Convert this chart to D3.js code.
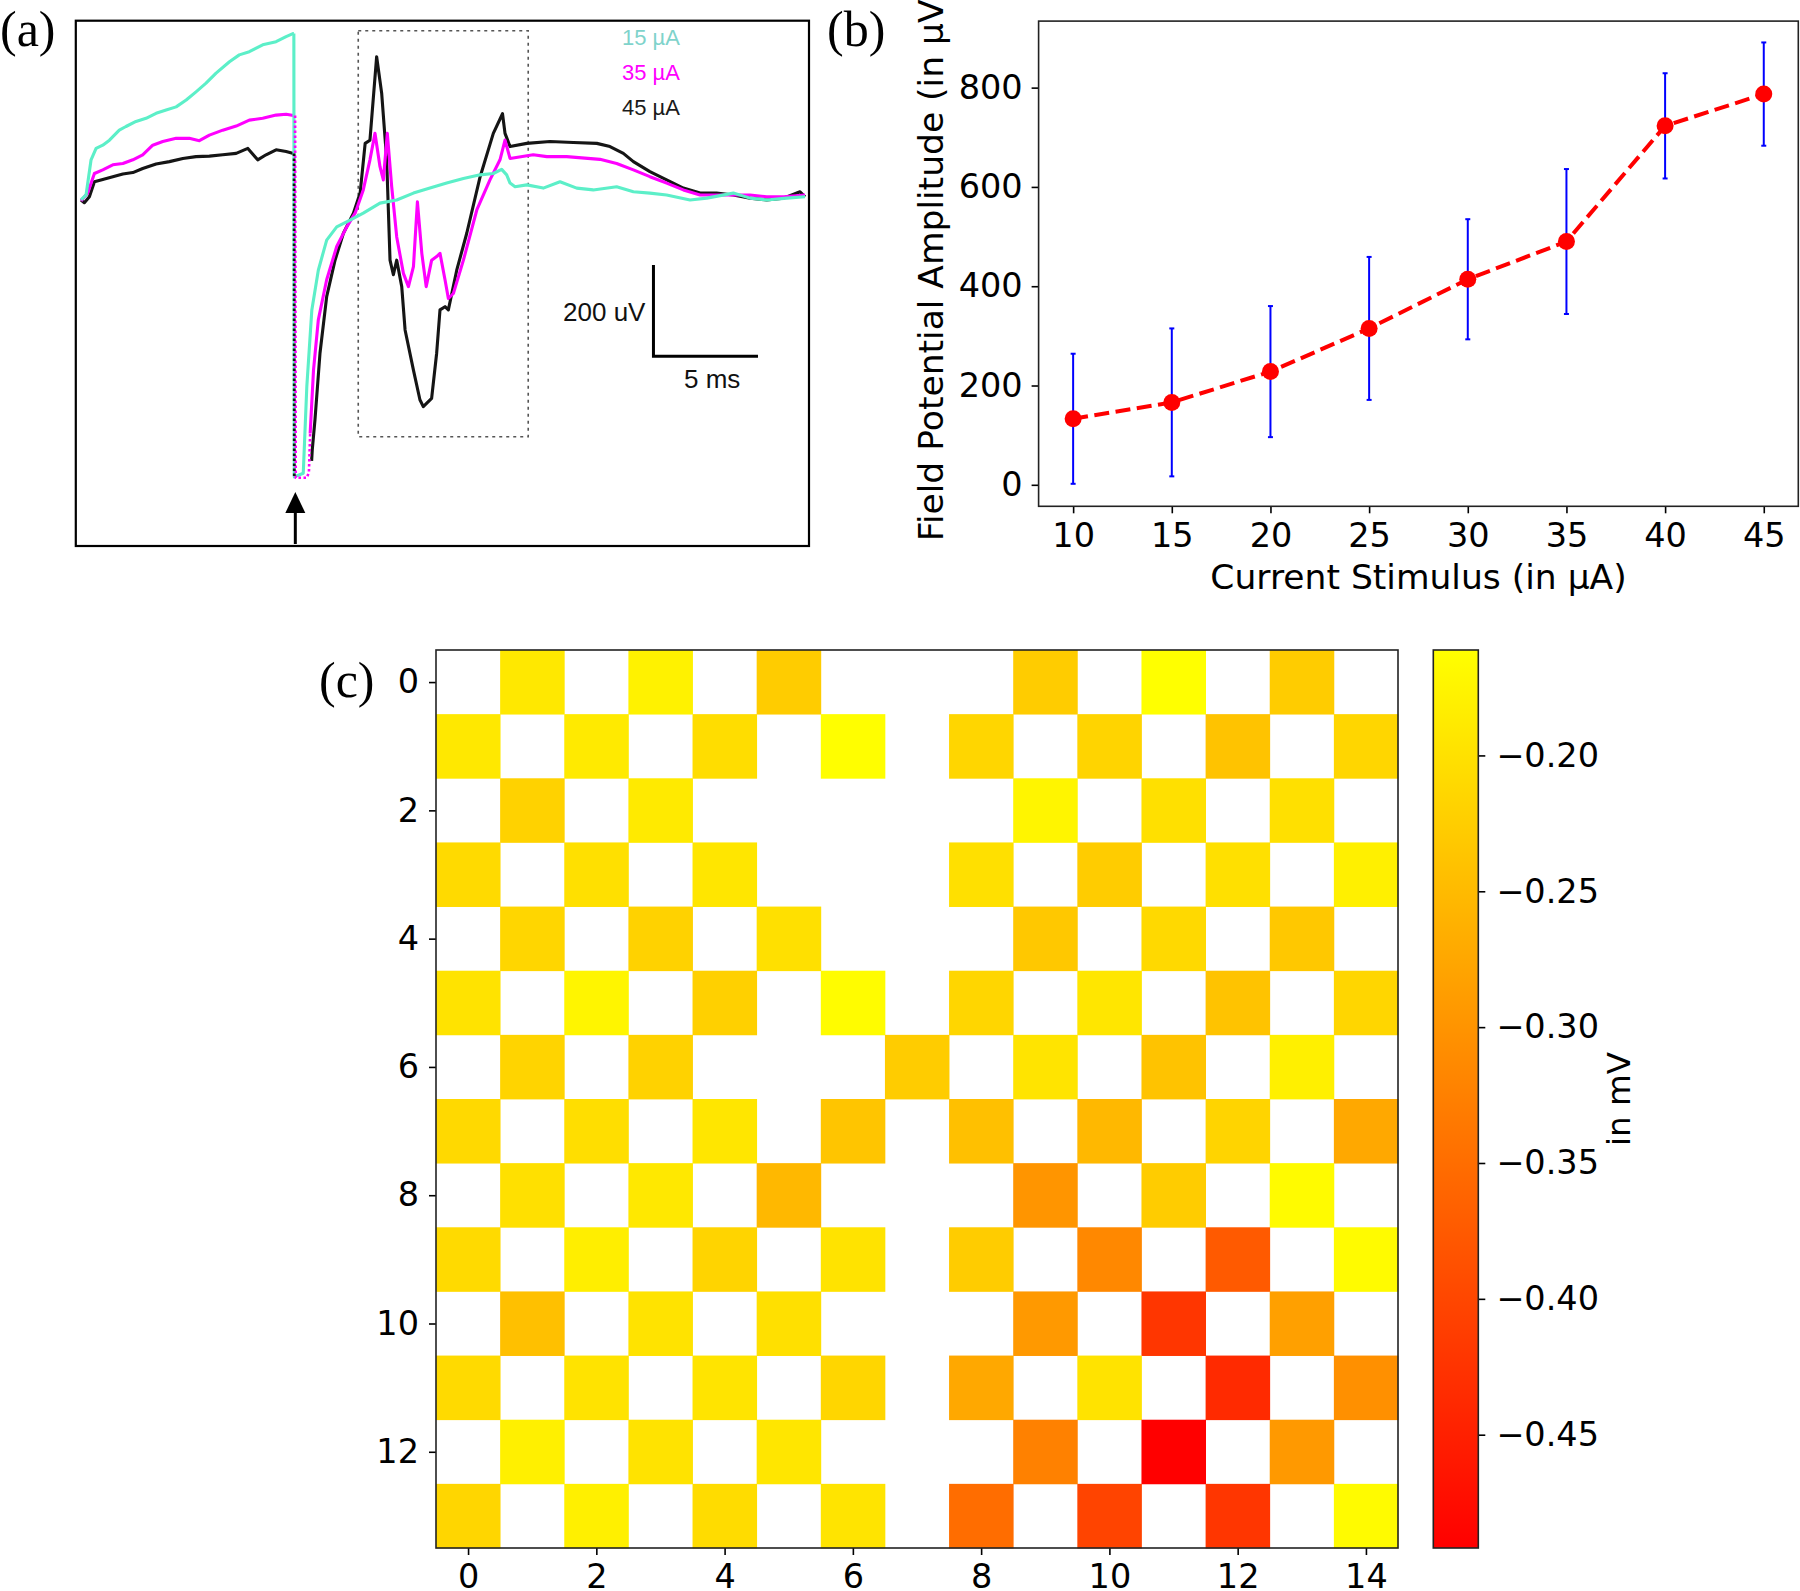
<!DOCTYPE html>
<html><head><meta charset="utf-8">
<script src="https://cdn.jsdelivr.net/npm/d3@7"></script>
<style>body{margin:0;background:#fff} svg{display:block}</style>
</head><body>
<svg id="fig" width="1800" height="1591"></svg>
<script>
// ---------- Panel (a) data: [time ms (rel. to stimulus), potential µV] ----------
const trace15Pre = [[-10.18,-3],[-9.94,8],[-9.70,85],[-9.46,110],[-9.14,117],[-8.82,128],[-8.35,150],[-8.03,158],[-7.55,169],[-7.07,176],[-6.59,187],[-6.11,194],[-5.63,201],[-5.15,216],[-4.68,234],[-4.20,253],[-3.72,275],[-3.08,300],[-2.61,315],[-2.13,322],[-1.49,337],[-0.85,344],[-0.37,355],[-0.02,362],[0.0,362]];
const trace15Post = [[0.0,362],[0.02,-610],[0.45,-602],[0.62,-412],[0.86,-244],[1.17,-157],[1.57,-91],[2.05,-62],[2.69,-47],[3.32,-32],[4.12,-10],[4.92,-3],[5.72,12],[6.51,23],[7.31,34],[8.11,44],[8.91,52],[9.54,55],[9.94,64],[10.18,52],[10.34,34],[10.58,26],[11.14,30],[11.93,23],[12.73,37],[13.53,23],[14.32,19],[15.44,26],[16.24,15],[17.03,12],[17.83,8],[18.95,-3],[19.75,1],[21.02,12],[21.82,1],[22.62,-3],[23.58,1],[24.45,4]];
const trace35Pre = [[-10.18,-5],[-9.86,12],[-9.54,55],[-9.14,63],[-8.66,74],[-8.18,77],[-7.70,85],[-7.23,96],[-6.75,117],[-6.27,125],[-5.63,132],[-5.00,132],[-4.52,127],[-4.04,139],[-3.40,150],[-2.76,159],[-2.13,172],[-1.49,176],[-0.85,183],[-0.37,185],[-0.02,182]];
const trace35Drop = [[0.06,182],[0.09,-612],[0.62,-612],[0.72,-600],[0.78,-515]];
const trace35Post = [[0.78,-515],[0.94,-376],[1.17,-266],[1.57,-178],[2.05,-105],[2.53,-62],[2.93,-32],[3.32,19],[3.64,85],[3.88,143],[4.12,70],[4.28,41],[4.47,143],[4.68,26],[4.92,-84],[5.24,-164],[5.48,-193],[5.72,-149],[5.91,-7],[6.12,-120],[6.33,-193],[6.59,-135],[6.83,-127],[6.99,-120],[7.23,-178],[7.39,-219],[7.63,-208],[8.11,-135],[8.75,-25],[9.38,41],[9.86,85],[10.1,128],[10.34,88],[11.45,96],[12.10,92],[13.05,92],[14.64,86],[15.44,77],[16.24,63],[17.03,48],[17.83,34],[18.63,19],[19.43,8],[20.22,8],[21.02,8],[21.82,8],[22.62,4],[23.42,4],[24.45,8]];
const trace45Pre = [[-10.18,-3],[-10.02,-9],[-9.78,4],[-9.54,37],[-9.14,42],[-8.66,48],[-8.18,54],[-7.70,57],[-7.23,66],[-6.59,76],[-5.95,81],[-5.31,88],[-4.68,92],[-4.04,93],[-3.40,96],[-2.76,99],[-2.20,110],[-1.73,85],[-1.33,96],[-0.85,107],[-0.37,103],[-0.02,99]];
const trace45Drop = [[0.01,99],[0.02,-612]];
const trace45Post = [[0.85,-575],[0.88,-551],[1.01,-485],[1.25,-339],[1.57,-215],[1.97,-135],[2.37,-76],[2.85,-32],[3.17,12],[3.41,121],[3.64,128],[3.96,311],[4.20,231],[4.44,85],[4.60,-135],[4.76,-167],[4.92,-135],[5.16,-193],[5.32,-288],[5.72,-376],[6.03,-441],[6.19,-456],[6.59,-438],[6.83,-339],[6.99,-244],[7.23,-237],[7.39,-244],[7.79,-157],[8.27,-76],[8.91,48],[9.54,143],[9.98,186],[10.10,143],[10.34,114],[11.14,121],[12.25,125],[13.37,123],[14.49,121],[15.12,114],[15.76,99],[16.24,81],[17.03,59],[17.83,41],[18.63,23],[19.43,12],[20.22,12],[21.02,8],[21.82,1],[22.62,-3],[23.42,1],[24.21,15],[24.45,4]];
const legendLabels = ["15 µA","35 µA","45 µA"];
const legendColors = ["#7fd3cb","#ff00ff","#1a1a1a"];
const responseWindow = [3.08, 11.21, -522, 368]; // t0, t1, vLow, vHigh
const scaleBarTime = [17.2, 22.2];
const scaleBarVolt = [-345.5, -145.5];

// ---------- Panel (b) data ----------
const stimulus = [10,15,20,25,30,35,40,45];
const amplitude = [133,166,228,315,414,490,723,787];
const amplitudeErr = [131,149,132,144,121,146,106,104];
const yTicksB = [0,200,400,600,800];

// ---------- Panel (c) data (mV, null = no value) ----------
const heatRows = [
[null,-0.191,null,-0.178,null,-0.227,null,null,null,-0.227,null,-0.1612,null,-0.227,null],
[-0.191,null,-0.188,null,-0.205,null,-0.163,null,-0.214,null,-0.217,null,-0.239,null,-0.214],
[null,-0.219,null,-0.188,null,null,null,null,null,-0.174,null,-0.201,null,-0.201,null],
[-0.209,null,-0.201,null,-0.193,null,null,null,-0.201,null,-0.227,null,-0.201,null,-0.180],
[null,-0.214,null,-0.219,null,-0.201,null,null,null,-0.232,null,-0.211,null,-0.232,null],
[-0.198,null,-0.174,null,-0.222,null,-0.165,null,-0.214,null,-0.193,null,-0.239,null,-0.214],
[null,-0.217,null,-0.219,null,null,null,-0.227,null,-0.196,null,-0.239,null,-0.180,null],
[-0.211,null,-0.204,null,-0.193,null,-0.237,null,-0.243,null,-0.253,null,-0.217,null,-0.274],
[null,-0.201,null,-0.191,null,-0.253,null,null,null,-0.299,null,-0.227,null,-0.167,null],
[-0.209,null,-0.183,null,-0.217,null,-0.198,null,-0.227,null,-0.315,null,-0.375,null,-0.167],
[null,-0.243,null,-0.198,null,-0.201,null,null,null,-0.294,null,-0.422,null,-0.284,null],
[-0.209,null,-0.198,null,-0.196,null,-0.214,null,-0.274,null,-0.198,null,-0.437,null,-0.305],
[null,-0.180,null,-0.198,null,-0.193,null,null,null,-0.325,null,-0.4917,null,-0.294,null],
[-0.214,null,-0.180,null,-0.206,null,-0.196,null,-0.351,null,-0.403,null,-0.422,null,-0.167]
];
const heatXTicks = [0,2,4,6,8,10,12,14];
const heatYTicks = [0,2,4,6,8,10,12];
const cbarTicks = [-0.20,-0.25,-0.30,-0.35,-0.40,-0.45];

const svg = d3.select("#fig");
svg.append("rect").attr("width",1800).attr("height",1591).attr("fill","#fff");
const SANS = "'DejaVu Sans', sans-serif";
const ARIAL = "'Liberation Sans', Arial, sans-serif";
const SERIF = "'Liberation Serif', 'Times New Roman', serif";
const TICK_FS = 33.5, LABEL_FS = 34.5;

// ================= Panel (a) =================
const xA = d3.scaleLinear().domain([-10.43, 24.64]).range([75.8, 809]);
const yA = d3.scaleLinear().domain([-761.5, 389.9]).range([546, 20.7]);
const lineA = d3.line().x(d=>xA(d[0])).y(d=>yA(d[1]));
const gA = svg.append("g");

gA.append("rect")
  .attr("x", xA(responseWindow[0])).attr("y", yA(responseWindow[3]))
  .attr("width", xA(responseWindow[1])-xA(responseWindow[0]))
  .attr("height", yA(responseWindow[2])-yA(responseWindow[3]))
  .attr("fill","none").attr("stroke","#555").attr("stroke-width",1.6).attr("stroke-dasharray","3,4");

const traceColors = {c15:"#5cefc8", c35:"#ff00ff", c45:"#151515"};
function path(data, color, dash, w){
  gA.append("path").datum(data).attr("d", lineA).attr("fill","none")
    .attr("stroke", color).attr("stroke-width", w||3.1).attr("stroke-linejoin","round")
    .attr("stroke-dasharray", dash||null);
}
path(trace45Pre, traceColors.c45);
path(trace45Post, traceColors.c45);
path(trace35Pre, traceColors.c35);
path(trace35Post, traceColors.c35);
path(trace15Pre, traceColors.c15);
path(trace15Post, traceColors.c15);
path(trace35Drop, traceColors.c35, "2.5,2.5", 2.6);
path(trace45Drop, traceColors.c45, "2.5,2.5", 2.8);

// frame
gA.append("rect").attr("x",75.8).attr("y",20.7).attr("width",733.2).attr("height",525.3)
  .attr("fill","none").attr("stroke","#000").attr("stroke-width",2.2);

// legend
legendLabels.forEach((t,i)=>{
  gA.append("text").attr("x",622).attr("y",45+35*i).text(t)
    .attr("font-family",ARIAL).attr("font-size",22).attr("fill",legendColors[i]);
});

// scale bar
gA.append("path").attr("d",
  `M${xA(scaleBarTime[0])},${yA(scaleBarVolt[1])}V${yA(scaleBarVolt[0])}H${xA(scaleBarTime[1])}`)
  .attr("fill","none").attr("stroke","#000").attr("stroke-width",3);
gA.append("text").attr("x",xA(scaleBarTime[0])-8).attr("y",321).attr("text-anchor","end")
  .attr("font-family",ARIAL).attr("font-size",26).attr("fill","#111").text("200 uV");
gA.append("text").attr("x",684).attr("y",388)
  .attr("font-family",ARIAL).attr("font-size",26).attr("fill","#111").text("5 ms");

// stimulus arrow
const ax0 = xA(0.07);
gA.append("line").attr("x1",ax0).attr("x2",ax0).attr("y1",544).attr("y2",508)
  .attr("stroke","#000").attr("stroke-width",3);
gA.append("path").attr("d",`M${ax0},492L${ax0-10},513L${ax0+10},513Z`).attr("fill","#000");

// ================= Panel (b) =================
const xB = d3.scaleLinear().domain([8.25,46.75]).range([1038.6,1798.3]);
const yB = d3.scaleLinear().domain([-43.3,934]).range([506.3,21.1]);
const gB = svg.append("g");
const axB1 = gB.append("g").attr("transform","translate(0,506.3)")
  .call(d3.axisBottom(xB).tickValues(stimulus).tickFormat(d3.format("d")).tickSize(7).tickPadding(10));
const axB2 = gB.append("g").attr("transform","translate(1038.6,0)")
  .call(d3.axisLeft(yB).tickValues(yTicksB).tickFormat(d3.format("d")).tickSize(7).tickPadding(9));
[axB1,axB2].forEach(a=>{
  a.select(".domain").remove();
  a.selectAll("line").attr("stroke","#000").attr("stroke-width",1.6);
  a.selectAll("text").attr("font-family",SANS).attr("font-size",TICK_FS).attr("fill","#000");
});
// error bars
const eb = gB.append("g");
stimulus.forEach((s,i)=>{
  const x = xB(s), y1 = yB(amplitude[i]-amplitudeErr[i]), y2 = yB(amplitude[i]+amplitudeErr[i]);
  eb.append("line").attr("x1",x).attr("x2",x).attr("y1",y1).attr("y2",y2).attr("stroke","#0000ff").attr("stroke-width",2);
  [y1,y2].forEach(y=>eb.append("line").attr("x1",x-2.5).attr("x2",x+2.5).attr("y1",y).attr("y2",y).attr("stroke","#0000ff").attr("stroke-width",2));
});
const ptsB = stimulus.map((s,i)=>[s,amplitude[i]]);
gB.append("path").datum(ptsB).attr("d", d3.line().x(d=>xB(d[0])).y(d=>yB(d[1])))
  .attr("fill","none").attr("stroke","#ff0000").attr("stroke-width",4).attr("stroke-dasharray","15,6.5");
gB.selectAll("circle.pt").data(ptsB).enter().append("circle")
  .attr("cx",d=>xB(d[0])).attr("cy",d=>yB(d[1])).attr("r",8.5).attr("fill","#ff0000");
gB.append("rect").attr("x",1038.6).attr("y",21.1).attr("width",759.7).attr("height",485.2)
  .attr("fill","none").attr("stroke","#222").attr("stroke-width",1.6);
gB.append("text").attr("x",1418.5).attr("y",589).attr("text-anchor","middle")
  .attr("font-family",SANS).attr("font-size",LABEL_FS).attr("fill","#000").text("Current Stimulus (in µA)");
gB.append("text").attr("transform","translate(943,263.7) rotate(-90)").attr("text-anchor","middle")
  .attr("font-family",SANS).attr("font-size",LABEL_FS).attr("fill","#000").text("Field Potential Amplitude (in µV)");

// ================= Panel (c) =================
const xC = d3.scaleLinear().domain([-0.5,14.5]).range([436,1398]);
const yC = d3.scaleLinear().domain([-0.5,13.5]).range([650,1548]);
const flat = heatRows.flat().filter(v=>v!==null);
const [vmin, vmax] = d3.extent(flat);
const colorC = d3.scaleLinear().domain([vmin,vmax]).range(["#ff0000","#ffff00"]).interpolate(d3.interpolateRgb);
const gC = svg.append("g");
const cells = [];
heatRows.forEach((row,r)=>row.forEach((v,c)=>{ if(v!==null) cells.push({r,c,v}); }));
gC.selectAll("rect.cell").data(cells).enter().append("rect")
  .attr("x",d=>xC(d.c-0.5)).attr("y",d=>yC(d.r-0.5))
  .attr("width",xC(1)-xC(0)+0.4).attr("height",yC(1)-yC(0)+0.4)
  .attr("fill",d=>colorC(d.v));
const axC1 = gC.append("g").attr("transform","translate(0,1548)")
  .call(d3.axisBottom(xC).tickValues(heatXTicks).tickFormat(d3.format("d")).tickSize(7).tickPadding(9));
const axC2 = gC.append("g").attr("transform","translate(436,0)")
  .call(d3.axisLeft(yC).tickValues(heatYTicks).tickFormat(d3.format("d")).tickSize(7).tickPadding(10));
[axC1,axC2].forEach(a=>{
  a.select(".domain").remove();
  a.selectAll("line").attr("stroke","#000").attr("stroke-width",1.6);
  a.selectAll("text").attr("font-family",SANS).attr("font-size",TICK_FS).attr("fill","#000");
});
gC.append("rect").attr("x",436).attr("y",650).attr("width",962).attr("height",898)
  .attr("fill","none").attr("stroke","#222").attr("stroke-width",1.6);

// colorbar
const defs = svg.append("defs");
const grad = defs.append("linearGradient").attr("id","cbar").attr("x1",0).attr("y1",1).attr("x2",0).attr("y2",0);
grad.append("stop").attr("offset","0%").attr("stop-color",colorC(vmin));
grad.append("stop").attr("offset","100%").attr("stop-color",colorC(vmax));
const cbY = d3.scaleLinear().domain([vmin,vmax]).range([1548,650]);
gC.append("rect").attr("x",1433.3).attr("y",650).attr("width",45).attr("height",898).attr("fill","url(#cbar)");
const axCb = gC.append("g").attr("transform","translate(1478.3,0)")
  .call(d3.axisRight(cbY).tickValues(cbarTicks).tickFormat(d3.format(".2f")).tickSize(7).tickPadding(11));
axCb.select(".domain").remove();
axCb.selectAll("line").attr("stroke","#000").attr("stroke-width",1.6);
axCb.selectAll("text").attr("font-family",SANS).attr("font-size",TICK_FS).attr("fill","#000");
gC.append("rect").attr("x",1433.3).attr("y",650).attr("width",45).attr("height",898)
  .attr("fill","none").attr("stroke","#222").attr("stroke-width",1.6);
gC.append("text").attr("transform","translate(1630,1099) rotate(-90)").attr("text-anchor","middle")
  .attr("font-family",SANS).attr("font-size",LABEL_FS-2).attr("fill","#000").text("in mV");

// panel labels
[["(a)",0,46],["(b)",827,46],["(c)",319,697]].forEach(([t,x,y])=>{
  svg.append("text").attr("x",x).attr("y",y).attr("font-family",SERIF).attr("font-size",50).attr("fill","#000").text(t);
});
</script></body></html>
